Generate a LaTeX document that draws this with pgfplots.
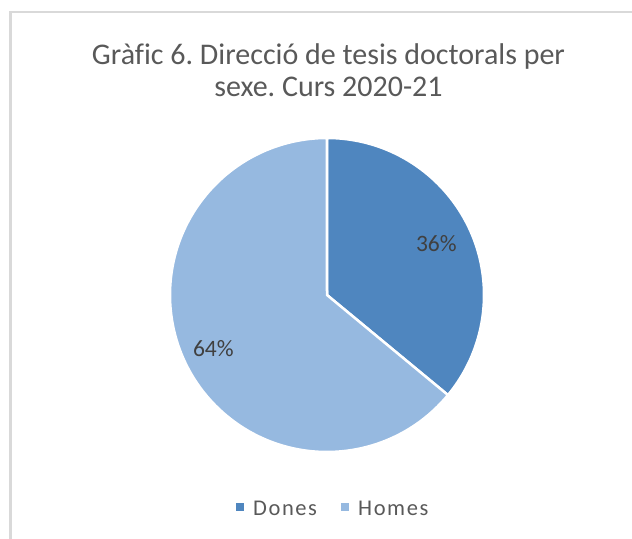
\documentclass[border=0pt]{standalone}
\usepackage{pgfplots}
\usepackage{pgfplotstable}
\pgfplotsset{compat=1.18}
\usepackage{fontspec}
\setmainfont{Carlito}[Ligatures=NoCommon]
\frenchspacing
\definecolor{dones}{HTML}{4F86BF}
\definecolor{homes}{HTML}{96B9E0}
\definecolor{titlegray}{HTML}{595959}
\definecolor{labelgray}{HTML}{404040}
\definecolor{bordergray}{HTML}{D9D9D9}
\pgfplotstableread{
label value
Dones 36
Homes 64
}\piedata
\begin{document}
\begin{tikzpicture}
\path[use as bounding box] (0,0) rectangle (632bp,539bp);
\begin{axis}[hide axis, x=1bp, y=1bp, xmin=0, xmax=632, ymin=0, ymax=539,
  anchor=origin, at={(0,0)}, clip=false]
\pgfplotstablegetelem{0}{value}\of\piedata \let\vA\pgfplotsretval
\pgfplotstablegetelem{1}{value}\of\piedata \let\vB\pgfplotsretval
\pgfmathsetmacro{\tot}{\vA+\vB}
\pgfmathsetmacro{\aA}{90-360*(\vA/\tot)}
\pgfmathsetmacro{\aB}{\aA-360*(\vB/\tot)}
\pgfmathsetmacro{\mA}{(90+\aA)/2}
\pgfmathsetmacro{\mB}{(\aA+\aB)/2}
\def\cx{327}\def\cy{244}\def\R{157}
% wedges
\filldraw[fill=dones, draw=white, line width=2.5bp, line join=round]
  (axis cs:\cx,\cy) -- (axis cs:{\cx+\R*cos(90)},{\cy+\R*sin(90)})
  arc[start angle=90, end angle=\aA, radius=\R bp] -- cycle;
\filldraw[fill=homes, draw=white, line width=2.5bp, line join=round]
  (axis cs:\cx,\cy) -- (axis cs:{\cx+\R*cos(\aA)},{\cy+\R*sin(\aA)})
  arc[start angle=\aA, end angle=\aB, radius=\R bp] -- cycle;
% labels
\node[text=labelgray, font=\fontsize{23.5bp}{26bp}\selectfont] at (axis cs:{\cx+0.77*\R*cos(\mA)},{\cy+0.77*\R*sin(\mA)}) {\vA\%};
\node[text=labelgray, font=\fontsize{23.5bp}{26bp}\selectfont] at (axis cs:{\cx+0.80*\R*cos(\mB)},{\cy+0.80*\R*sin(\mB)}) {\vB\%};
% title
\node[anchor=base, text=titlegray, font=\fontsize{30bp}{32bp}\selectfont] at (axis cs:328.5,474) {Gràfic 6. Direcció de tesis doctorals per};
\node[anchor=base, text=titlegray, font=\fontsize{30bp}{32bp}\selectfont] at (axis cs:328.5,442) {sexe. Curs 2020-21};
% legend
\fill[dones] (axis cs:236,27.5) rectangle (axis cs:244,35.5);
\node[anchor=base west, inner sep=0pt, text=titlegray, font=\fontsize{22.5bp}{24bp}\selectfont\addfontfeatures{LetterSpace=7}] at (axis cs:253,24) {Dones};
\fill[homes] (axis cs:341,27.5) rectangle (axis cs:349,35.5);
\node[anchor=base west, inner sep=0pt, text=titlegray, font=\fontsize{22.5bp}{24bp}\selectfont\addfontfeatures{LetterSpace=7}] at (axis cs:358,24) {Homes};
% chart border
\draw[bordergray, line width=2bp] (axis cs:640,527) -- (axis cs:10.5,527) -- (axis cs:10.5,-10);
\end{axis}
\end{tikzpicture}
\end{document}
